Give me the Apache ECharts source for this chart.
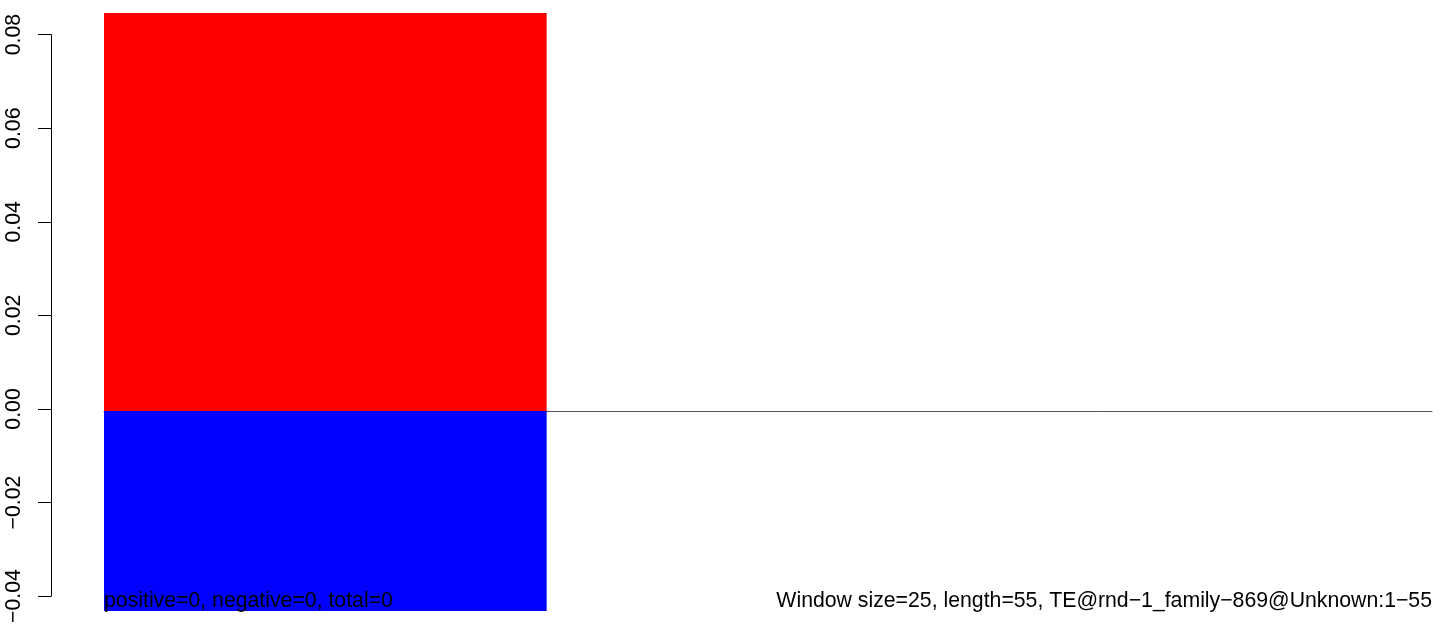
<!DOCTYPE html>
<html>
<head>
<meta charset="utf-8">
<script src="https://cdn.jsdelivr.net/npm/echarts@6/dist/echarts.min.js"></script>
<style>
html,body{margin:0;padding:0;background:#fff;}
#chart{width:1444px;height:626px;}
</style>
</head>
<body>
<div id="chart"></div>
<script>
// Data
const windows = ["1-25", "26-50", "51-55"];
const positiveValues = [0.0846, 0, 0];
const negativeValues = [-0.0425, 0, 0];
const yTickMin = -0.04;
const yTickMax = 0.08;
const yTickStep = 0.02;
const plotYMin = -0.0425;
const plotYMax = 0.0846;
const leftNote = "positive=0, negative=0, total=0";
const rightNote = "Window size=25, length=55, TE@rnd\u22121_family\u2212869@Unknown:1\u221255";

const FONT = "Liberation Sans, Arial, Helvetica, sans-serif";
const FS = 21.25;

const chart = echarts.init(document.getElementById('chart'), null, {renderer: 'canvas'});

// pixel geometry of main plot
const gTop = 13, gBottomPx = 611;
const gHeight = gBottomPx - gTop;
const pxPerUnit = gHeight / (plotYMax - plotYMin);
const axTop = gTop + (plotYMax - yTickMax) * pxPerUnit;
const axHeight = (yTickMax - yTickMin) * pxPerUnit;

chart.setOption({
  animation: false,
  backgroundColor: '#ffffff',
  grid: [
    {left: 104, right: 12, top: gTop, height: gHeight, containLabel: false},
    {left: 51, width: 10, top: axTop, height: axHeight, containLabel: false}
  ],
  xAxis: [
    {
      type: 'category', gridIndex: 0, data: windows,
      axisLine: {show: true, onZero: true, lineStyle: {color: '#555555', width: 1}},
      axisTick: {show: false}, axisLabel: {show: false}, splitLine: {show: false}
    },
    {
      type: 'value', gridIndex: 1, show: false, min: 0, max: 1
    }
  ],
  yAxis: [
    {
      type: 'value', gridIndex: 0, min: plotYMin, max: plotYMax, show: false,
      splitLine: {show: false}
    },
    {
      type: 'value', gridIndex: 1, min: yTickMin, max: yTickMax, interval: yTickStep,
      position: 'left',
      axisLine: {show: true, lineStyle: {color: '#000', width: 1}},
      axisTick: {show: true, length: 13, lineStyle: {color: '#000', width: 1}},
      splitLine: {show: false},
      axisLabel: {
        show: true, rotate: 90, margin: 26,
        fontFamily: FONT, fontSize: FS, color: '#000',
        formatter: v => {
          const s = v.toFixed(2);
          return s.replace('-', '\u2212');
        }
      }
    }
  ],
  series: [
    {
      name: 'positive', type: 'bar', xAxisIndex: 0, yAxisIndex: 0,
      data: positiveValues, barWidth: '100%', barGap: '-100%',
      itemStyle: {color: '#ff0000'}, z: 2
    },
    {
      name: 'negative', type: 'bar', xAxisIndex: 0, yAxisIndex: 0,
      data: negativeValues, barWidth: '100%', barGap: '-100%',
      itemStyle: {color: '#0000ff'}, z: 2
    }
  ],
  graphic: [
    {
      type: 'text', left: 104, top: 591, z: 10,
      style: {text: leftNote, font: FS + 'px ' + FONT, fill: '#000'}
    },
    {
      type: 'text', right: 12, top: 591, z: 10,
      style: {text: rightNote, font: FS + 'px ' + FONT, fill: '#000'}
    }
  ]
});
</script>
</body>
</html>
